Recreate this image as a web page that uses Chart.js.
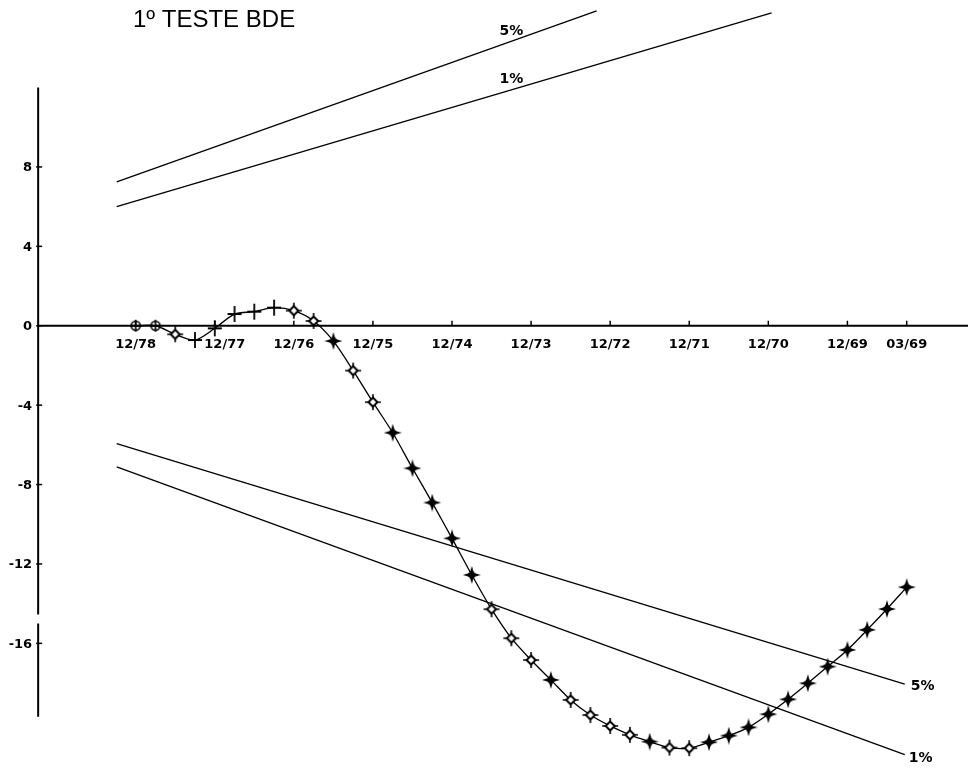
<!DOCTYPE html>
<html>
<head>
<meta charset="utf-8">
<style>
  html, body { margin: 0; padding: 0; background: #fff; }
  canvas { display: block; }
</style>
<script src="https://cdn.jsdelivr.net/npm/chart.js@4.4.0/dist/chart.umd.min.js"></script>
</head>
<body>
<canvas id="bde" width="968" height="771"></canvas>
<script>
// months counted back from 12/78 (quarterly observations)
const quarterMonths = [0, 3, 6, 9, 12, 15, 18, 21, 24, 27, 30, 33, 36, 39, 42, 45, 48, 51, 54, 57,
  60, 63, 66, 69, 72, 75, 78, 81, 84, 87, 90, 93, 96, 99, 102, 105, 108, 111, 114, 117];
const cusumValues = [0, 0, -0.43, -0.72, -0.13, 0.59, 0.71, 0.91, 0.76, 0.24,
  -0.77, -2.26, -3.85, -5.39, -7.18, -8.91, -10.71, -12.55, -14.28, -15.74,
  -16.84, -17.84, -18.85, -19.61, -20.16, -20.61, -20.95, -21.25, -21.28, -20.98,
  -20.65, -20.23, -19.57, -18.82, -18.01, -17.17, -16.33, -15.32, -14.27, -13.17];

// significance lines (start / end)
const upper5X = [-2.88, 69.95];
const upper5Y = [7.25, 15.86];
const upper1X = [-2.88, 96.5];
const upper1Y = [6.0, 15.76];
const lower5X = [-2.88, 116.7];
const lower5Y = [-5.94, -18.05];
const lower1X = [-2.88, 116.7];
const lower1Y = [-7.11, -21.61];

const xTickMonths = [0, 12, 24, 36, 48, 60, 72, 84, 96, 108, 117];
const xTickLabels = ['12/78', '12/77', '12/76', '12/75', '12/74', '12/73', '12/72', '12/71', '12/70', '12/69', '03/69'];
const yTickValues = [8, 4, 0, -4, -8, -12, -16];

// marker drawn at each point: o = circle+cross, + = plus, d = open diamond, s = filled star
const markerKinds = ['o', 'o', 'd', '+', '+', '+', '+', '+', 'd', 'd',
  's', 'd', 'd', 's', 's', 's', 's', 's', 'd', 'd',
  'd', 's', 'd', 'd', 'd', 'd', 's', 'd', 'd', 's',
  's', 's', 's', 's', 's', 's', 's', 's', 's', 's'];

function makeMarker(kind) {
  const c = document.createElement('canvas');
  c.width = 18; c.height = 18;
  const g = c.getContext('2d');
  g.translate(9, 9);
  g.strokeStyle = '#000';
  g.fillStyle = '#000';
  g.lineWidth = 1.6;
  if (kind === 'o') {
    g.beginPath(); g.arc(0, 0, 4.5, 0, Math.PI * 2); g.stroke();
    g.beginPath(); g.moveTo(-6, 0); g.lineTo(6, 0); g.moveTo(0, -6); g.lineTo(0, 6); g.stroke();
  } else if (kind === '+') {
    g.lineWidth = 1.8;
    g.beginPath(); g.moveTo(-7, 0); g.lineTo(7, 0); g.moveTo(0, -8); g.lineTo(0, 8); g.stroke();
  } else if (kind === 'd') {
    g.beginPath(); g.moveTo(-8, 0); g.lineTo(8, 0); g.moveTo(0, -8); g.lineTo(0, 8); g.stroke();
    g.beginPath(); g.moveTo(0, -4.5); g.lineTo(4.5, 0); g.lineTo(0, 4.5); g.lineTo(-4.5, 0); g.closePath();
    g.fillStyle = '#fff'; g.fill(); g.lineWidth = 2; g.stroke();
  } else {
    g.beginPath();
    g.moveTo(0, -9); g.lineTo(2, -2); g.lineTo(9, 0); g.lineTo(2, 2);
    g.lineTo(0, 9); g.lineTo(-2, 2); g.lineTo(-9, 0); g.lineTo(-2, -2);
    g.closePath(); g.fill();
    g.beginPath(); g.moveTo(0, -5); g.lineTo(5, 0); g.lineTo(0, 5); g.lineTo(-5, 0); g.closePath(); g.fill();
  }
  return c;
}
const markers = { o: makeMarker('o'), '+': makeMarker('+'), d: makeMarker('d'), s: makeMarker('s') };

const toXY = (xs, ys) => xs.map((x, i) => ({ x: x, y: ys[i] }));

function boundLine(xs, ys) {
  return {
    data: toXY(xs, ys),
    borderColor: '#000',
    borderWidth: 1.3,
    pointRadius: 0,
    tension: 0,
    fill: false
  };
}

const axesPlugin = {
  id: 'axesPlugin',
  beforeDatasetsDraw(chart) {
    const ctx = chart.ctx;
    const xs = chart.scales.x;
    const ys = chart.scales.y;
    const axisX = xs.getPixelForValue(-14.8);
    const zeroY = ys.getPixelForValue(0);
    ctx.save();
    ctx.strokeStyle = '#000';
    ctx.lineWidth = 2;
    // vertical axis, with the small break near -15
    ctx.beginPath();
    ctx.moveTo(axisX, ys.getPixelForValue(12));
    ctx.lineTo(axisX, ys.getPixelForValue(-14.55));
    ctx.moveTo(axisX, ys.getPixelForValue(-15.0));
    ctx.lineTo(axisX, ys.getPixelForValue(-19.7));
    ctx.stroke();
    // horizontal axis at zero
    ctx.beginPath();
    ctx.moveTo(axisX, zeroY);
    ctx.lineTo(chart.chartArea.right, zeroY);
    ctx.stroke();

    ctx.lineWidth = 1.5;
    ctx.font = 'bold 13px "DejaVu Sans", sans-serif';
    ctx.fillStyle = '#000';
    // y ticks
    ctx.textAlign = 'right';
    ctx.textBaseline = 'middle';
    yTickValues.forEach(v => {
      const py = ys.getPixelForValue(v);
      ctx.beginPath(); ctx.moveTo(axisX - 2, py); ctx.lineTo(axisX + 4, py); ctx.stroke();
      ctx.fillText(String(v), axisX - 6, py + 1);
    });
    // x ticks
    ctx.textAlign = 'center';
    ctx.textBaseline = 'middle';
    xTickMonths.forEach((m, i) => {
      const px = xs.getPixelForValue(m);
      ctx.beginPath(); ctx.moveTo(px, zeroY); ctx.lineTo(px, zeroY - 5); ctx.stroke();
      ctx.fillText(xTickLabels[i], px + (i === 1 ? 10 : 0), zeroY + 19);
    });

    // title
    ctx.font = '24px "Liberation Sans", Arial, sans-serif';
    ctx.textAlign = 'left';
    ctx.fillText('1º TESTE BDE', 133, 20);

    // significance labels
    ctx.font = 'bold 14px "DejaVu Sans", sans-serif';
    ctx.textAlign = 'center';
    const at = (xsArr, ysArr, m) => ysArr[0] + (ysArr[1] - ysArr[0]) * (m - xsArr[0]) / (xsArr[1] - xsArr[0]);
    ctx.fillText('5%', xs.getPixelForValue(57), ys.getPixelForValue(at(upper5X, upper5Y, 57)) - 10);
    ctx.fillText('1%', xs.getPixelForValue(57), ys.getPixelForValue(at(upper1X, upper1Y, 57)) - 11);
    ctx.textAlign = 'left';
    ctx.fillText('5%', xs.getPixelForValue(lower5X[1]) + 6, ys.getPixelForValue(lower5Y[1]) + 2);
    ctx.fillText('1%', xs.getPixelForValue(lower1X[1]) + 4, ys.getPixelForValue(lower1Y[1]) + 4);
    ctx.restore();
  }
};

new Chart(document.getElementById('bde'), {
  type: 'line',
  data: {
    datasets: [
      {
        data: toXY(quarterMonths, cusumValues),
        borderColor: '#000',
        borderWidth: 1.3,
        tension: 0.3,
        fill: false,
        pointRadius: 5,
        pointStyle: markerKinds.map(k => markers[k])
      },
      boundLine(upper5X, upper5Y),
      boundLine(upper1X, upper1Y),
      boundLine(lower5X, lower5Y),
      boundLine(lower1X, lower1Y)
    ]
  },
  options: {
    responsive: false,
    animation: false,
    devicePixelRatio: 1,
    layout: { padding: 0, autoPadding: false },
    plugins: { legend: { display: false }, tooltip: { enabled: false } },
    scales: {
      x: { type: 'linear', min: -20.59, max: 126.3, display: false },
      y: { type: 'linear', min: -22.43, max: 16.41, display: false }
    }
  },
  plugins: [axesPlugin]
});
</script>
</body>
</html>
